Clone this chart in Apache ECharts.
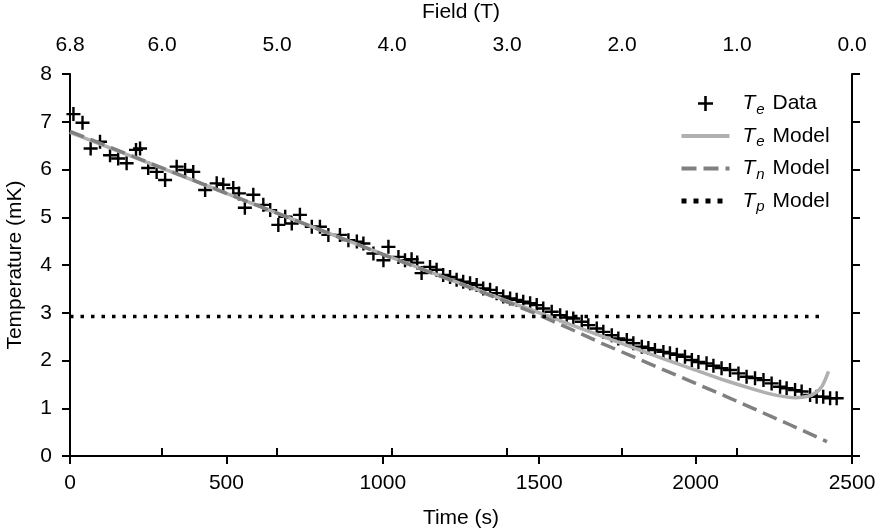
<!DOCTYPE html>
<html>
<head>
<meta charset="utf-8">
<script src="https://cdn.jsdelivr.net/npm/echarts@6/dist/echarts.min.js"></script>
<style>html,body{margin:0;padding:0;background:#fff}#c{width:882px;height:529px}</style>
</head>
<body>
<div id="c"></div>
<script>
// Measured electron temperature (time s, temperature mK)
const dataTime = [11,40,66,96,128,154,181,211,224,250,277,304,341,368,394,432,469,490,522,540,559,586,618,640,666,688,709,735,773,799,826,863,890,917,938,970,1002,1018,1050,1071,1092,1110,1124,1151,1172,1193,1215,1236,1257,1279,1300,1321,1343,1364,1385,1407,1428,1449,1471,1492,1513,1540,1567,1588,1609,1636,1657,1684,1705,1732,1753,1780,1801,1828,1849,1870,1897,1918,1940,1966,1988,2009,2035,2057,2083,2110,2137,2163,2190,2217,2243,2270,2291,2318,2339,2366,2387,2408,2430,2451];
const dataTemp = [7.16,6.98,6.44,6.58,6.30,6.23,6.13,6.41,6.44,6.03,5.95,5.78,6.06,5.99,5.95,5.57,5.71,5.68,5.61,5.50,5.20,5.47,5.26,5.15,4.84,5.01,4.87,5.05,4.80,4.80,4.63,4.63,4.52,4.49,4.45,4.24,4.10,4.38,4.17,4.10,4.12,4.05,3.83,3.96,3.90,3.79,3.75,3.69,3.65,3.62,3.58,3.51,3.48,3.41,3.34,3.30,3.27,3.23,3.20,3.16,3.09,3.02,2.95,2.90,2.88,2.81,2.74,2.67,2.60,2.53,2.46,2.43,2.36,2.29,2.26,2.22,2.18,2.15,2.12,2.08,2.01,1.97,1.94,1.89,1.84,1.80,1.73,1.66,1.63,1.59,1.52,1.45,1.42,1.38,1.35,1.28,1.24,1.24,1.21,1.21];

// Te model curve
const teModelTime = [0,500,1000,1250,1400,1500,1600,1700,1800,1900,2000,2100,2200,2260,2320,2360,2385,2405,2425];
const teModelTemp = [6.78,5.50,4.23,3.61,3.24,3.00,2.75,2.51,2.27,2.03,1.80,1.57,1.37,1.27,1.22,1.25,1.33,1.47,1.77];

// Tn model curve
const tnModelTime = [0,500,1000,1250,1400,1500,1600,1700,1800,1900,2000,2100,2200,2300,2420];
const tnModelTemp = [6.80,5.50,4.22,3.60,3.22,2.95,2.66,2.36,2.08,1.80,1.52,1.24,0.95,0.66,0.30];

// Tp model (constant)
const tpModelTime = [0,2404];
const tpModelTemp = [2.92,2.92];

// Axis ticks
const yTicks = [0,1,2,3,4,5,6,7,8];
const timeTicks = [0,500,1000,1500,2000,2500];
const fieldTicks = [0,1,2,3,4,5,6,6.8];

const zip = (a, b) => a.map((v, i) => [v, b[i]]);
const FONT = '"Liberation Sans", Arial, Helvetica, sans-serif';
const FS = 21;
const plusPath = 'path://M5.8,0 H8.2 V5.8 H14 V8.2 H8.2 V14 H5.8 V8.2 H0 V5.8 H5.8 Z';

const axisLineStyle = {show: true, lineStyle: {color: '#000', width: 2}};
const axisTickStyle = {show: true, inside: false, length: 8, lineStyle: {color: '#000', width: 2}};
const labelStyle = {color: '#000', fontSize: FS, fontFamily: FONT};
const nameStyle = {color: '#000', fontSize: FS, fontFamily: FONT};

const legendNames = {
  'Te Data': '{i|T}{s|e}{n| Data}',
  'Te Model': '{i|T}{s|e}{n| Model}',
  'Tn Model': '{i|T}{s|n}{n| Model}',
  'Tp Model': '{i|T}{s|p}{n| Model}'
};

const chart = echarts.init(document.getElementById('c'), null, {renderer: 'canvas'});
chart.setOption({
  animation: false,
  backgroundColor: '#fff',
  textStyle: {fontFamily: FONT},
  grid: {left: 70, right: 30, top: 74, bottom: 73, containLabel: false, outerBoundsMode: 'none'},
  legend: {
    orient: 'vertical',
    left: 679,
    top: 93,
    padding: 0,
    itemWidth: 48,
    itemHeight: 15,
    itemGap: 8.5,
    selectedMode: false,
    data: [
      {name: 'Te Data'},
      {name: 'Te Model', itemStyle: {opacity: 0}, lineStyle: {width: 4}},
      {name: 'Tn Model', itemStyle: {opacity: 0}, lineStyle: {width: 4, type: [15, 7]}},
      {name: 'Tp Model', itemStyle: {opacity: 0}, lineStyle: {width: 5, type: [5, 7]}}
    ],
    formatter: name => legendNames[name],
    textStyle: {
      color: '#000',
      fontFamily: FONT,
      padding: [0, 0, 0, 8],
      rich: {
        i: {fontStyle: 'italic', fontSize: FS, color: '#000', fontFamily: FONT, lineHeight: 27, verticalAlign: 'middle'},
        s: {fontStyle: 'italic', fontSize: 15, color: '#000', fontFamily: FONT, lineHeight: 14, verticalAlign: 'bottom', padding: [0, 2, 0, 1]},
        n: {fontSize: FS, color: '#000', fontFamily: FONT, lineHeight: 27, verticalAlign: 'middle'}
      }
    }
  },
  xAxis: [
    {
      type: 'value', position: 'bottom', min: 0, max: 2500, interval: 500,
      name: 'Time (s)', nameLocation: 'middle', nameGap: 52, nameTextStyle: nameStyle,
      axisLine: axisLineStyle, axisTick: axisTickStyle,
      axisLabel: Object.assign({margin: 17, customValues: timeTicks, formatter: v => String(v)}, labelStyle),
      splitLine: {show: false}
    },
    {
      type: 'value', position: 'top', min: 0, max: 6.8, inverse: true,
      name: 'Field (T)', nameLocation: 'middle', nameGap: 51, nameTextStyle: nameStyle,
      axisLine: axisLineStyle,
      axisTick: Object.assign({customValues: fieldTicks}, axisTickStyle),
      axisLabel: Object.assign({margin: 18, customValues: fieldTicks, formatter: v => Number(v).toFixed(1)}, labelStyle),
      splitLine: {show: false}
    }
  ],
  yAxis: [
    {
      type: 'value', position: 'left', min: 0, max: 8, interval: 1,
      name: 'Temperature (mK)', nameLocation: 'middle', nameGap: 44, nameRotate: 90, nameTextStyle: nameStyle,
      axisLine: axisLineStyle, axisTick: axisTickStyle,
      axisLabel: Object.assign({margin: 18, customValues: yTicks}, labelStyle),
      splitLine: {show: false}
    },
    {
      type: 'value', position: 'right', min: 0, max: 8, interval: 1,
      axisLine: axisLineStyle, axisTick: axisTickStyle,
      axisLabel: {show: false}, splitLine: {show: false}
    }
  ],
  series: [
    {
      name: 'Te Data', type: 'scatter', xAxisIndex: 0, yAxisIndex: 0,
      symbol: plusPath, symbolSize: 14,
      itemStyle: {color: '#000', opacity: 1},
      data: zip(dataTime, dataTemp), z: 2
    },
    {
      name: 'Te Model', type: 'line', xAxisIndex: 0, yAxisIndex: 0,
      symbol: 'none', showSymbol: false, smooth: 0.3,
      lineStyle: {color: '#b0b0b0', width: 3.5, type: 'solid'},
      itemStyle: {color: '#b0b0b0'},
      data: zip(teModelTime, teModelTemp), z: 3
    },
    {
      name: 'Tn Model', type: 'line', xAxisIndex: 0, yAxisIndex: 0,
      symbol: 'none', showSymbol: false,
      lineStyle: {color: '#808080', width: 3.5, type: [15, 7]},
      itemStyle: {color: '#808080'},
      data: zip(tnModelTime, tnModelTemp), z: 3
    },
    {
      name: 'Tp Model', type: 'line', xAxisIndex: 0, yAxisIndex: 0,
      symbol: 'none', showSymbol: false,
      lineStyle: {color: '#000', width: 3.5, type: [3.5, 7]},
      itemStyle: {color: '#000'},
      data: zip(tpModelTime, tpModelTemp), z: 3
    }
  ]
});
</script>
</body>
</html>
